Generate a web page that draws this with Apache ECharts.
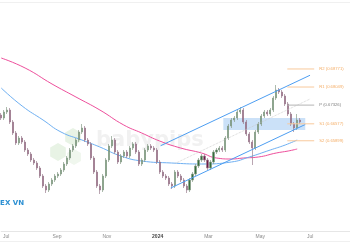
<!DOCTYPE html>
<html>
<head>
  <meta charset="UTF-8">
  <script src="https://cdn.jsdelivr.net/npm/echarts@6/dist/echarts.min.js"></script>
  <style>
    body { margin: 0; padding: 0; background: #ffffff; }
    #main { width: 350px; height: 250px; }
  </style>
</head>
<body>
<div id="main"></div>
<script>
  // candles, one every few trading days (x = candle index)
  var open = [0.6693,0.6681,0.6705,0.6713,0.6665,0.6621,0.6581,0.6601,0.6585,0.6553,
    0.6537,0.6513,0.6501,0.6481,0.6449,0.6409,0.6393,0.6417,0.6433,0.6449,
    0.6457,0.6473,0.6497,0.6521,0.6553,0.6569,0.6593,0.6625,0.6641,0.6593,
    0.6577,0.6521,0.6465,0.6409,0.6393,0.6449,0.6513,0.6569,0.6593,0.6545,
    0.6505,0.6529,0.6545,0.6529,0.6561,0.6577,0.6545,0.6497,0.6513,0.6553,
    0.6569,0.6561,0.6553,0.6505,0.6465,0.6449,0.6441,0.6417,0.6409,0.6465,
    0.6449,0.6433,0.6409,0.6393,0.6433,0.6457,0.6489,0.6513,0.6529,0.6513,
    0.6481,0.6505,0.6545,0.6553,0.6561,0.6553,0.6601,0.6649,0.6673,0.6681,
    0.6705,0.6713,0.6665,0.6617,0.6585,0.6561,0.6625,0.6657,0.6689,0.6705,
    0.6697,0.6713,0.6761,0.6793,0.6785,0.6769,0.6737,0.6697,0.6657,0.6641,0.6673];
  var close = [0.6681,0.6705,0.6713,0.6665,0.6621,0.6581,0.6601,0.6585,0.6553,0.6537,
    0.6513,0.6501,0.6481,0.6449,0.6409,0.6393,0.6417,0.6433,0.6449,0.6457,
    0.6473,0.6497,0.6521,0.6553,0.6569,0.6593,0.6625,0.6641,0.6593,0.6577,
    0.6521,0.6465,0.6409,0.6393,0.6449,0.6513,0.6569,0.6593,0.6545,0.6505,
    0.6529,0.6545,0.6529,0.6561,0.6577,0.6545,0.6497,0.6513,0.6553,0.6569,
    0.6561,0.6553,0.6505,0.6465,0.6449,0.6441,0.6417,0.6409,0.6465,0.6449,
    0.6433,0.6409,0.6393,0.6433,0.6457,0.6489,0.6513,0.6529,0.6513,0.6481,
    0.6505,0.6545,0.6553,0.6561,0.6553,0.6601,0.6649,0.6673,0.6681,0.6705,
    0.6713,0.6665,0.6617,0.6585,0.6561,0.6625,0.6657,0.6689,0.6705,0.6697,
    0.6713,0.6761,0.6793,0.6785,0.6769,0.6737,0.6697,0.6657,0.6641,0.6673,0.6665];
  var low = [0.6673,0.6673,0.6697,0.6657,0.6613,0.6573,0.6573,0.6577,0.6545,0.6529,
    0.6505,0.6493,0.6473,0.6441,0.6401,0.6381,0.6385,0.6409,0.6425,0.6441,
    0.6449,0.6465,0.6489,0.6513,0.6545,0.6561,0.6585,0.6617,0.6585,0.6569,
    0.6513,0.6457,0.6401,0.6377,0.6385,0.6441,0.6505,0.6561,0.6537,0.6497,
    0.6497,0.6521,0.6521,0.6521,0.6553,0.6537,0.6489,0.6489,0.6505,0.6545,
    0.6553,0.6545,0.6497,0.6457,0.6441,0.6433,0.6409,0.6397,0.6401,0.6441,
    0.6425,0.6401,0.6381,0.6385,0.6425,0.6449,0.6481,0.6505,0.6505,0.6473,
    0.6473,0.6497,0.6537,0.6545,0.6545,0.6545,0.6593,0.6641,0.6665,0.6673,
    0.6697,0.6657,0.6609,0.6577,0.6493,0.6553,0.6617,0.6649,0.6681,0.6689,
    0.6689,0.6705,0.6753,0.6777,0.6761,0.6729,0.6689,0.6649,0.6625,0.6633,0.6657];
  var high = [0.6701,0.6713,0.6725,0.6721,0.6673,0.6629,0.6609,0.6609,0.6593,0.6561,
    0.6545,0.6521,0.6509,0.6489,0.6457,0.6417,0.6425,0.6441,0.6457,0.6465,
    0.6481,0.6505,0.6529,0.6561,0.6577,0.6601,0.6633,0.6657,0.6649,0.6601,
    0.6585,0.6529,0.6473,0.6417,0.6457,0.6521,0.6577,0.6609,0.6601,0.6553,
    0.6537,0.6553,0.6553,0.6569,0.6585,0.6585,0.6553,0.6521,0.6561,0.6577,
    0.6577,0.6569,0.6561,0.6513,0.6473,0.6457,0.6449,0.6425,0.6473,0.6473,
    0.6457,0.6441,0.6417,0.6441,0.6465,0.6497,0.6521,0.6537,0.6537,0.6521,
    0.6513,0.6553,0.6561,0.6569,0.6569,0.6609,0.6657,0.6681,0.6689,0.6713,
    0.6725,0.6721,0.6673,0.6625,0.6593,0.6633,0.6665,0.6697,0.6713,0.6713,
    0.6721,0.6769,0.6813,0.6801,0.6793,0.6777,0.6745,0.6705,0.6665,0.6697,0.6681];

  // moving averages [candle index, price]
  var maSlow = [[0,0.6921],[8,0.6881],[17,0.6817],[25,0.6765],[33,0.6713],[41,0.6653],
    [47,0.6621],[53,0.6589],[60,0.6561],[67,0.6541],[72,0.6521],[77,0.6517],
    [81,0.6521],[86,0.6525],[92,0.6541],[96,0.6549],[99,0.6557]];
  var maFast = [[0,0.6801],[7,0.6729],[14,0.6673],[20,0.6625],[27,0.6593],[33,0.6565],
    [40,0.6529],[47,0.6509],[57,0.6501],[67,0.6497],[77,0.6505],[83,0.6525],
    [90,0.6553],[95,0.6573],[99,0.6593]];

  // trend channel
  var chanUpper = [[53.3,0.6570],[103.3,0.6852]];
  var chanLower = [[56.7,0.6401],[101.7,0.6655]];
  var chanMid = [[58.3,0.6500],[103.3,0.6757]];

  // support zone [x0, x1], [top, bottom]
  var zoneX = [74.3, 101.7];
  var zoneY = [0.6681, 0.6633];

  // pivot levels
  var pivotNames = ['R2', 'R1', 'P', 'S1', 'S2'];
  var pivotValues = [0.68771, 0.68049, 0.67326, 0.66577, 0.65899];
  var pivotX = [95.7, 104.7];

  // x labels
  var tickPos = [1.67, 18.67, 35.33, 52.33, 69.33, 86.67, 103.33];
  var tickLabels = ['Jul', 'Sep', 'Nov', '2024', 'Mar', 'May', 'Jul'];

  var candles = [];
  for (var i = 0; i < close.length; i++) {
    candles.push([i, open[i], close[i], low[i], high[i]]);
  }

  var series = [
    {
      type: 'line', data: maSlow, smooth: true, symbol: 'none', z: 3,
      lineStyle: { color: '#ee4f9c', width: 1 }
    },
    {
      type: 'line', data: maFast, smooth: true, symbol: 'none', z: 3,
      lineStyle: { color: '#6fb0f2', width: 1 }
    },
    {
      type: 'candlestick',
      data: candles,
      encode: { x: 0, y: [1, 2, 3, 4] },
      barWidth: 1.6,
      z: 4,
      itemStyle: {
        color: '#356e3c', color0: '#6e1c47',
        borderColor: '#8a9e8a', borderColor0: '#9c8090', borderWidth: 0.7
      },
      markArea: {
        silent: true,
        itemStyle: { color: 'rgba(140,188,240,0.45)' },
        data: [[{ coord: [zoneX[0], zoneY[0]] }, { coord: [zoneX[1], zoneY[1]] }]]
      }
    },
    {
      type: 'line', data: chanUpper, symbol: 'none', z: 5,
      lineStyle: { color: '#4d9ef2', width: 1 }
    },
    {
      type: 'line', data: chanLower, symbol: 'none', z: 5,
      lineStyle: { color: '#4d9ef2', width: 1 }
    },
    {
      type: 'line', data: chanMid, symbol: 'none', z: 5,
      lineStyle: { color: '#c9c9c9', width: 0.8, type: 'dotted' }
    }
  ];

  pivotNames.forEach(function (name, k) {
    var isP = name === 'P';
    series.push({
      type: 'line',
      symbol: 'none',
      z: 5,
      data: [[pivotX[0], pivotValues[k]], [pivotX[1], pivotValues[k]]],
      lineStyle: { color: isP ? '#b4b4b4' : '#f8c99c', width: 1 },
      endLabel: {
        show: true,
        distance: 5,
        fontSize: 4.2,
        fontFamily: 'Liberation Sans',
        color: isP ? '#808080' : '#f4ad66',
        formatter: name + ' (' + pivotValues[k].toFixed(5) + ')'
      }
    });
  });

  function hex(cx, cy, r) {
    var w = r * 0.866;
    return [[cx, cy - r], [cx + w, cy - r / 2], [cx + w, cy + r / 2],
      [cx, cy + r], [cx - w, cy + r / 2], [cx - w, cy - r / 2]];
  }

  var option = {
    animation: false,
    backgroundColor: '#ffffff',
    grid: { left: 0, right: 0, top: 3, bottom: 19 },
    xAxis: {
      type: 'value',
      min: 0,
      max: 116.67,
      splitLine: { show: false },
      axisLine: { show: true, lineStyle: { color: '#e6e6e6' } },
      axisTick: { show: false },
      axisLabel: {
        customValues: tickPos,
        fontSize: 5,
        color: '#8a8a8a',
        margin: 3,
        formatter: function (v) {
          var idx = tickPos.indexOf(v);
          var t = idx >= 0 ? tickLabels[idx] : '';
          return t === '2024' ? '{b|' + t + '}' : t;
        },
        rich: { b: { fontSize: 5, color: '#444444', fontWeight: 'bold' } }
      }
    },
    yAxis: {
      type: 'value',
      min: 0.6229,
      max: 0.7141,
      show: false,
      splitLine: { show: false }
    },
    graphic: [
      { type: 'line', shape: { x1: 0, y1: 2.5, x2: 350, y2: 2.5 }, style: { stroke: '#f0f0f0', lineWidth: 1 } },
      { type: 'line', shape: { x1: 0, y1: 241.5, x2: 350, y2: 241.5 }, style: { stroke: '#f0f0f0', lineWidth: 1 } },
      { type: 'polygon', shape: { points: hex(73, 137, 9) }, style: { fill: '#e8f3e5' } },
      { type: 'polygon', shape: { points: hex(58, 152, 9) }, style: { fill: '#e8f3e5' } },
      { type: 'polygon', shape: { points: hex(74, 157, 8) }, style: { fill: '#f0f7ee' } },
      {
        type: 'text', left: 96, top: 130,
        style: { text: 'babypips', fontSize: 21, fontWeight: 'bold', fontFamily: 'DejaVu Sans', fill: '#f1f1f1' }
      },
      {
        type: 'text', left: -16, top: 200,
        style: { text: 'FOREX VN', fontSize: 7, fontWeight: 'bold', fontFamily: 'DejaVu Sans', fill: '#2b8fd2' }
      }
    ],
    series: series
  };

  var chart = echarts.init(document.getElementById('main'));
  chart.setOption(option);
</script>
</body>
</html>
